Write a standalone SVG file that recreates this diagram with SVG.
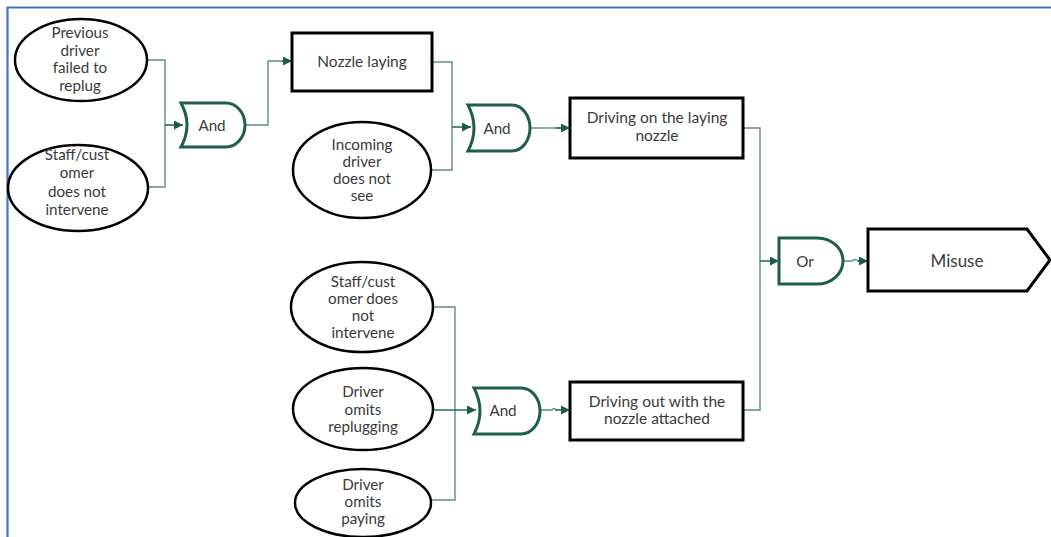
<svg xmlns="http://www.w3.org/2000/svg" width="1051" height="537" viewBox="0 0 1051 537">
<defs>
<marker id="arr" viewBox="0 0 10 10" refX="10" refY="5" markerWidth="9" markerHeight="9" markerUnits="userSpaceOnUse" orient="auto">
<path d="M0,0 L10,5 L0,10 Z" fill="#1E5B47"/>
</marker>
<style>
.ev{fill:#fff;stroke:#000;stroke-width:2.5}
.box{fill:#fff;stroke:#000;stroke-width:3}
.gate{fill:#fff;stroke:#1E5E4A;stroke-width:3}
.t{font-family:Lato,"Open Sans","Liberation Sans",sans-serif;font-size:15.2px;fill:#3a3a3a;text-anchor:middle}
.tb{font-family:Lato,"Open Sans","Liberation Sans",sans-serif;font-size:15.5px;fill:#3a3a3a;text-anchor:middle}
.c{fill:none;stroke:#5A8F80;stroke-width:1.4}
.a{fill:none;stroke:#2A6A55;stroke-width:1.6;marker-end:url(#arr)}
</style>
</defs>
<rect width="1051" height="537" fill="#fff"/>
<path d="M7.5,537 V7.5 H1051" fill="none" stroke="#4472C4" stroke-width="2.2"/>

<g id="connectors">
<path class="c" d="M147,60 H165 V187 H148"/>
<path class="a" d="M165,125 H183"/>
<path class="c" d="M245,125 H268 V61 H284"/>
<path class="a" d="M282,61 H292"/>
<path class="c" d="M432,62 H452 V170 H432"/>
<path class="a" d="M452,127 H471"/>
<path class="c" d="M530,128 H560"/>
<path class="a" d="M556,128 H570"/>
<path class="c" d="M743,128 H760 V410 H743"/>
<path class="a" d="M760,261 H779"/>
<path class="c" d="M843,261 H852 Q855,258 858,261 H860"/>
<path class="a" d="M858,261 H868"/>
<path class="c" d="M433,307 H455 V500 H432"/>
<path class="a" d="M433,410 H476"/>
<path class="c" d="M540,410 H552 Q554,407 556,410"/>
<path class="a" d="M555,410 H570"/>
</g>

<g id="e1">
<ellipse class="ev" cx="81" cy="60" rx="66" ry="41"/>
<text class="t" x="80" y="38">Previous</text>
<text class="t" x="80" y="55.5">driver</text>
<text class="t" x="80" y="73">failed to</text>
<text class="t" x="80" y="90.5">replug</text>
</g>
<g id="e2">
<ellipse class="ev" cx="78" cy="188" rx="70" ry="43"/>
<text class="t" x="77" y="160">Staff/cust</text>
<text class="t" x="77" y="178">omer</text>
<text class="t" x="77" y="197">does not</text>
<text class="t" x="77" y="215">intervene</text>
</g>
<g id="g1">
<path class="gate" d="M181,103 H226 A19 22 0 0 1 226,147 H181 Q193,125 181,103 Z"/>
<text class="t" x="212" y="130.5">And</text>
</g>
<g id="b1">
<rect class="box" x="292" y="33" width="140" height="58"/>
<text class="tb" x="362" y="67">Nozzle laying</text>
</g>
<g id="e3">
<ellipse class="ev" cx="362" cy="170" rx="69" ry="48"/>
<text class="t" x="362" y="150">Incoming</text>
<text class="t" x="362" y="167">driver</text>
<text class="t" x="362" y="184">does not</text>
<text class="t" x="362" y="201">see</text>
</g>
<g id="g2">
<path class="gate" d="M468,105 H512 A18 23 0 0 1 512,151 H468 Q480,128 468,105 Z"/>
<text class="t" x="497" y="133.5">And</text>
</g>
<g id="b2">
<rect class="box" x="570" y="98" width="173" height="60"/>
<text class="tb" x="657" y="123">Driving on the laying</text>
<text class="tb" x="657" y="141">nozzle</text>
</g>
<g id="e4">
<ellipse class="ev" cx="362" cy="307" rx="71" ry="45"/>
<text class="t" x="363" y="287">Staff/cust</text>
<text class="t" x="363" y="304">omer does</text>
<text class="t" x="363" y="321">not</text>
<text class="t" x="363" y="338">intervene</text>
</g>
<g id="e5">
<ellipse class="ev" cx="363" cy="409" rx="70" ry="41"/>
<text class="t" x="363" y="397">Driver</text>
<text class="t" x="363" y="415">omits</text>
<text class="t" x="363" y="432">replugging</text>
</g>
<g id="e6">
<ellipse class="ev" cx="363" cy="503" rx="68" ry="34"/>
<text class="t" x="363" y="490">Driver</text>
<text class="t" x="363" y="507">omits</text>
<text class="t" x="363" y="524">paying</text>
</g>
<g id="g3">
<path class="gate" d="M474,388 H521 A19 23 0 0 1 521,434 H474 Q486,411 474,388 Z"/>
<text class="t" x="503" y="415.5">And</text>
</g>
<g id="b3">
<rect class="box" x="570" y="382" width="173" height="58"/>
<text class="tb" x="657" y="407">Driving out with the</text>
<text class="tb" x="657" y="424">nozzle attached</text>
</g>
<g id="or">
<path class="gate" d="M779,238 H817 A26 23 0 0 1 817,284 H779 Z"/>
<text class="t" x="805" y="266.5">Or</text>
</g>
<g id="misuse">
<path class="box" d="M868,229 H1027 L1050,260 L1027,291 H868 Z"/>
<text class="tb" x="957" y="266.5" style="font-size:17px">Misuse</text>
</g>
</svg>
